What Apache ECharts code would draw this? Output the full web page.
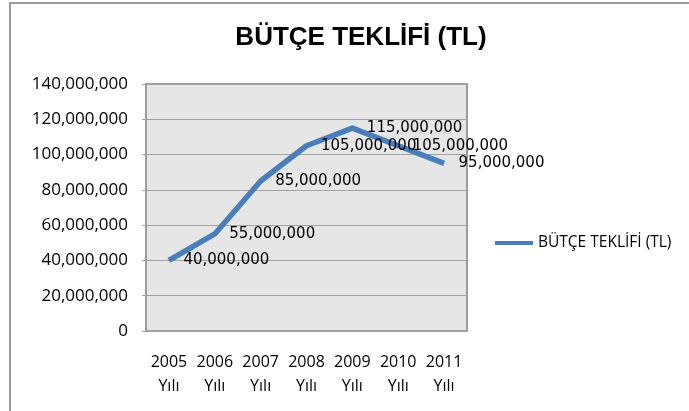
<!DOCTYPE html>
<html><head><meta charset="utf-8">
<script src="https://cdn.jsdelivr.net/npm/echarts@6/dist/echarts.min.js"></script>
<style>html,body{margin:0;padding:0;background:#fff}#c{width:689px;height:411px}</style>
</head><body><div id="c"></div>
<script>
const titleText = 'BÜTÇE TEKLİFİ (TL)';
const seriesName = 'BÜTÇE TEKLİFİ (TL)';
const categories = ['2005\nYılı','2006\nYılı','2007\nYılı','2008\nYılı','2009\nYılı','2010\nYılı','2011\nYılı'];
const values = [40000000, 55000000, 85000000, 105000000, 115000000, 105000000, 95000000];
const yMin = 0, yMax = 140000000, yStep = 20000000;

const fmt = v => String(Math.round(v)).replace(/\B(?=(\d{3})+(?!\d))/g, ',');
const chart = echarts.init(document.getElementById('c'), null, {renderer:'canvas'});
chart.setOption({
  animation:false,
  backgroundColor:'#fff',
  graphic:[{type:'rect',shape:{x:10,y:3,width:700,height:430},style:{fill:'none',stroke:'#9a9a9a',lineWidth:2},silent:true}],
  title:{text:titleText,left:356,top:20,textAlign:'center',
    textStyle:{fontFamily:'Liberation Sans',fontWeight:'bold',fontSize:26,color:'#000'}},
  legend:{data:[seriesName],left:490,top:230,itemWidth:38,itemHeight:4,icon:'rect',itemGap:6,
    textStyle:{fontFamily:'Open Sans',fontSize:15.5,color:'#000'}},
  grid:{left:146,right:222,top:84,bottom:80,show:true,backgroundColor:'#E6E6E6',borderColor:'#9c9c9c',borderWidth:2},
  xAxis:{type:'category',data:categories,boundaryGap:true,
    axisLine:{show:false},axisTick:{show:false},
    axisLabel:{fontFamily:'Open Sans',fontSize:16,color:'#000',lineHeight:24,margin:19,interval:0}},
  yAxis:{type:'value',min:yMin,max:yMax,interval:yStep,
    axisLine:{show:false},axisTick:{show:true,length:4,lineStyle:{color:'#9c9c9c'}},
    splitLine:{lineStyle:{color:'#a3a3a3',width:1}},
    axisLabel:{fontFamily:'Open Sans',fontSize:17,color:'#000',margin:18,formatter:fmt}},
  series:[{name:seriesName,type:'line',data:values,symbol:'circle',symbolSize:1,showSymbol:true,
    lineStyle:{color:'#4A7EBB',width:5.5},itemStyle:{color:'#4A7EBB'},
    label:{show:true,position:'right',distance:14,fontFamily:'DejaVu Sans',fontSize:15,color:'#000',formatter:p=>fmt(p.value)}}]
});
</script></body></html>
